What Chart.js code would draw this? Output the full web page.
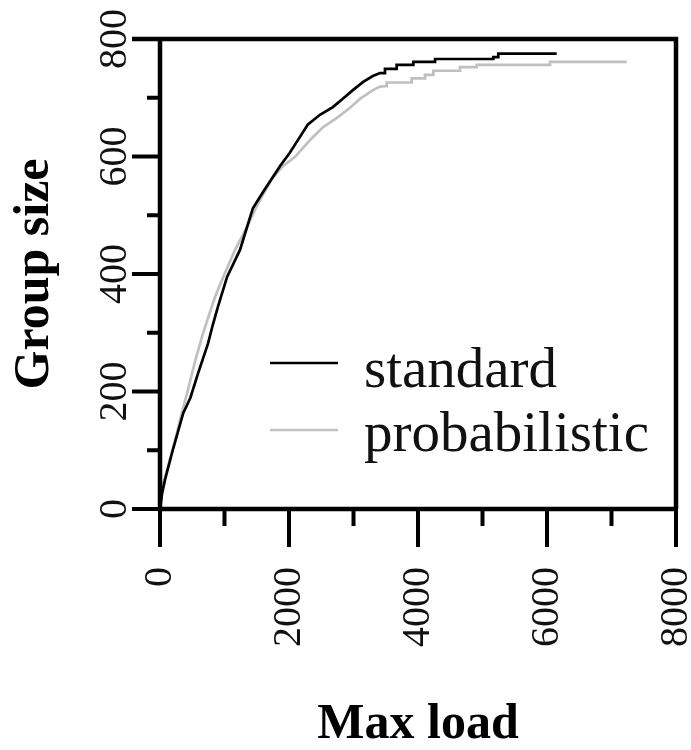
<!DOCTYPE html>
<html>
<head>
<meta charset="utf-8">
<script src="https://cdn.jsdelivr.net/npm/chart.js@4"></script>
<style>
  body { margin: 0; background: #fff; }
  canvas { display: block; }
</style>
</head>
<body>
<canvas id="groupChart" width="691" height="750"></canvas>
<script>
// Values
const stdLoad = [0, 30, 78, 190, 360, 470, 590, 745, 820, 900, 1040, 1240, 1350, 1440, 1600, 1750, 1870, 2010, 2150, 2290,
  2480, 2680, 2830, 2990, 3150, 3300, 3411, 3488, 3488, 3669, 3669, 3928, 3928, 4264, 4264, 5168, 5168, 5245, 5245, 6150];
const stdSize = [0, 25, 50, 97, 163, 189, 231, 282, 314, 345, 395, 441, 480, 512, 540, 565, 585, 606, 630, 654,
  671, 684, 698, 713, 727, 737, 742, 742, 749, 749, 756, 756, 761, 761, 766, 766, 769, 769, 775, 775];

const probLoad = [0, 40, 124, 230, 310, 434, 540, 651, 744, 850, 961, 1060, 1163, 1349, 1520, 1736, 1900, 2090, 2326, 2530,
  2760, 2946, 3100, 3302, 3411, 3514, 3514, 3902, 3902, 4109, 4109, 4238, 4238, 4651, 4651, 4910, 4910, 6047, 6047, 7235];
const probSize = [0, 40, 72, 115, 151, 203, 250, 293, 325, 360, 390, 415, 441, 480, 520, 562, 583, 599, 628, 650,
  667, 683, 698, 713, 719, 720, 726, 726, 733, 733, 739, 739, 746, 746, 752, 752, 756, 756, 761, 761];

const xMajor = [0, 2000, 4000, 6000, 8000];
const xMinor = [1000, 3000, 5000, 7000];
const yMajor = [0, 200, 400, 600, 800];
const yMinor = [100, 300, 500, 700];

const seriesNames = ["standard", "probabilistic"];
const seriesColors = ["#000000", "#c0c0c0"];

Chart.defaults.font.family = '"Liberation Serif", "Times New Roman", serif';
Chart.defaults.color = "#111";

function toPoints(xs, ys) {
  return xs.map((v, i) => ({ x: v, y: ys[i] }));
}

// box around the plot plus major/minor tick marks
const frameTicks = {
  id: "frameTicks",
  afterDatasetsDraw(chart) {
    const { ctx, chartArea: a, scales: { x, y } } = chart;
    ctx.save();
    ctx.strokeStyle = "#000";
    ctx.lineWidth = 4.5;
    ctx.beginPath();
    ctx.moveTo(a.left - 28, a.top);
    ctx.lineTo(a.right, a.top);
    ctx.lineTo(a.right, a.bottom);
    ctx.moveTo(a.left, a.top);
    ctx.lineTo(a.left, a.bottom);
    ctx.lineTo(a.right, a.bottom);
    ctx.stroke();

    ctx.lineWidth = 4;
    ctx.beginPath();
    xMajor.forEach(v => {
      const px = x.getPixelForValue(v);
      ctx.moveTo(px, a.bottom);
      ctx.lineTo(px, a.bottom + 38);
    });
    xMinor.forEach(v => {
      const px = x.getPixelForValue(v);
      ctx.moveTo(px, a.bottom);
      ctx.lineTo(px, a.bottom + 17);
    });
    yMajor.forEach(v => {
      const py = y.getPixelForValue(v);
      ctx.moveTo(a.left, py);
      ctx.lineTo(a.left - 28, py);
    });
    yMinor.forEach(v => {
      const py = y.getPixelForValue(v);
      ctx.moveTo(a.left, py);
      ctx.lineTo(a.left - 13, py);
    });
    ctx.stroke();
    ctx.restore();
  }
};

// legend sits inside the plot, drawn by hand
const insideLegend = {
  id: "insideLegend",
  afterDraw(chart) {
    const ctx = chart.ctx;
    const rows = [363, 430];
    const baselines = [387, 451];
    ctx.save();
    chart.data.datasets.forEach((ds, i) => {
      ctx.strokeStyle = ds.borderColor;
      ctx.lineWidth = 2.5;
      ctx.beginPath();
      ctx.moveTo(270, rows[i]);
      ctx.lineTo(338, rows[i]);
      ctx.stroke();
      ctx.fillStyle = "#111";
      ctx.font = '57px "Liberation Serif", serif';
      ctx.textBaseline = "alphabetic";
      ctx.fillText(ds.label, 364, baselines[i]);
    });
    ctx.restore();
  }
};

const ctx = document.getElementById("groupChart").getContext("2d");
const chart = new Chart(ctx, {
  type: "line",
  data: {
    datasets: [
      {
        label: seriesNames[0],
        data: toPoints(stdLoad, stdSize),
        borderColor: seriesColors[0],
        borderWidth: 2.7,
        pointRadius: 0,
        tension: 0
      },
      {
        label: seriesNames[1],
        data: toPoints(probLoad, probSize),
        borderColor: seriesColors[1],
        borderWidth: 2.7,
        pointRadius: 0,
        tension: 0
      }
    ]
  },
  options: {
    responsive: false,
    animation: false,
    layout: { padding: { top: 39, right: 15, left: 0, bottom: 0 } },
    plugins: {
      legend: { display: false },
      tooltip: { enabled: false }
    },
    scales: {
      x: {
        type: "linear",
        min: 0,
        max: 8000,
        afterFit: scale => {
          scale.height = 241;
          scale.paddingLeft = 0;
          scale.paddingRight = 0;
        },
        afterBuildTicks: scale => { scale.ticks = xMajor.map(v => ({ value: v })); },
        grid: { display: false, drawTicks: false },
        border: { display: false },
        ticks: {
          autoSkip: false,
          minRotation: 90,
          maxRotation: 90,
          padding: 58,
          font: { size: 40 },
          callback: v => String(v)
        },
        title: {
          display: true,
          text: "Max load",
          color: "#000",
          font: { size: 50, weight: "bold", lineHeight: 1 },
          padding: { top: 0, bottom: 0 }
        }
      },
      y: {
        min: 0,
        max: 800,
        afterFit: scale => {
          scale.width = 160;
          scale.paddingTop = 0;
          scale.paddingBottom = 0;
        },
        afterBuildTicks: scale => { scale.ticks = yMajor.map(v => ({ value: v })); },
        grid: { display: false, drawTicks: false },
        border: { display: false },
        ticks: {
          autoSkip: false,
          minRotation: 90,
          maxRotation: 90,
          crossAlign: "center",
          padding: 15,
          font: { size: 40 },
          callback: v => String(v)
        },
        title: {
          display: true,
          text: "Group size",
          color: "#000",
          font: { size: 50, weight: "bold", lineHeight: 1 },
          padding: { top: 10, bottom: 0 }
        }
      }
    }
  },
  plugins: [frameTicks, insideLegend]
});
</script>
</body>
</html>
